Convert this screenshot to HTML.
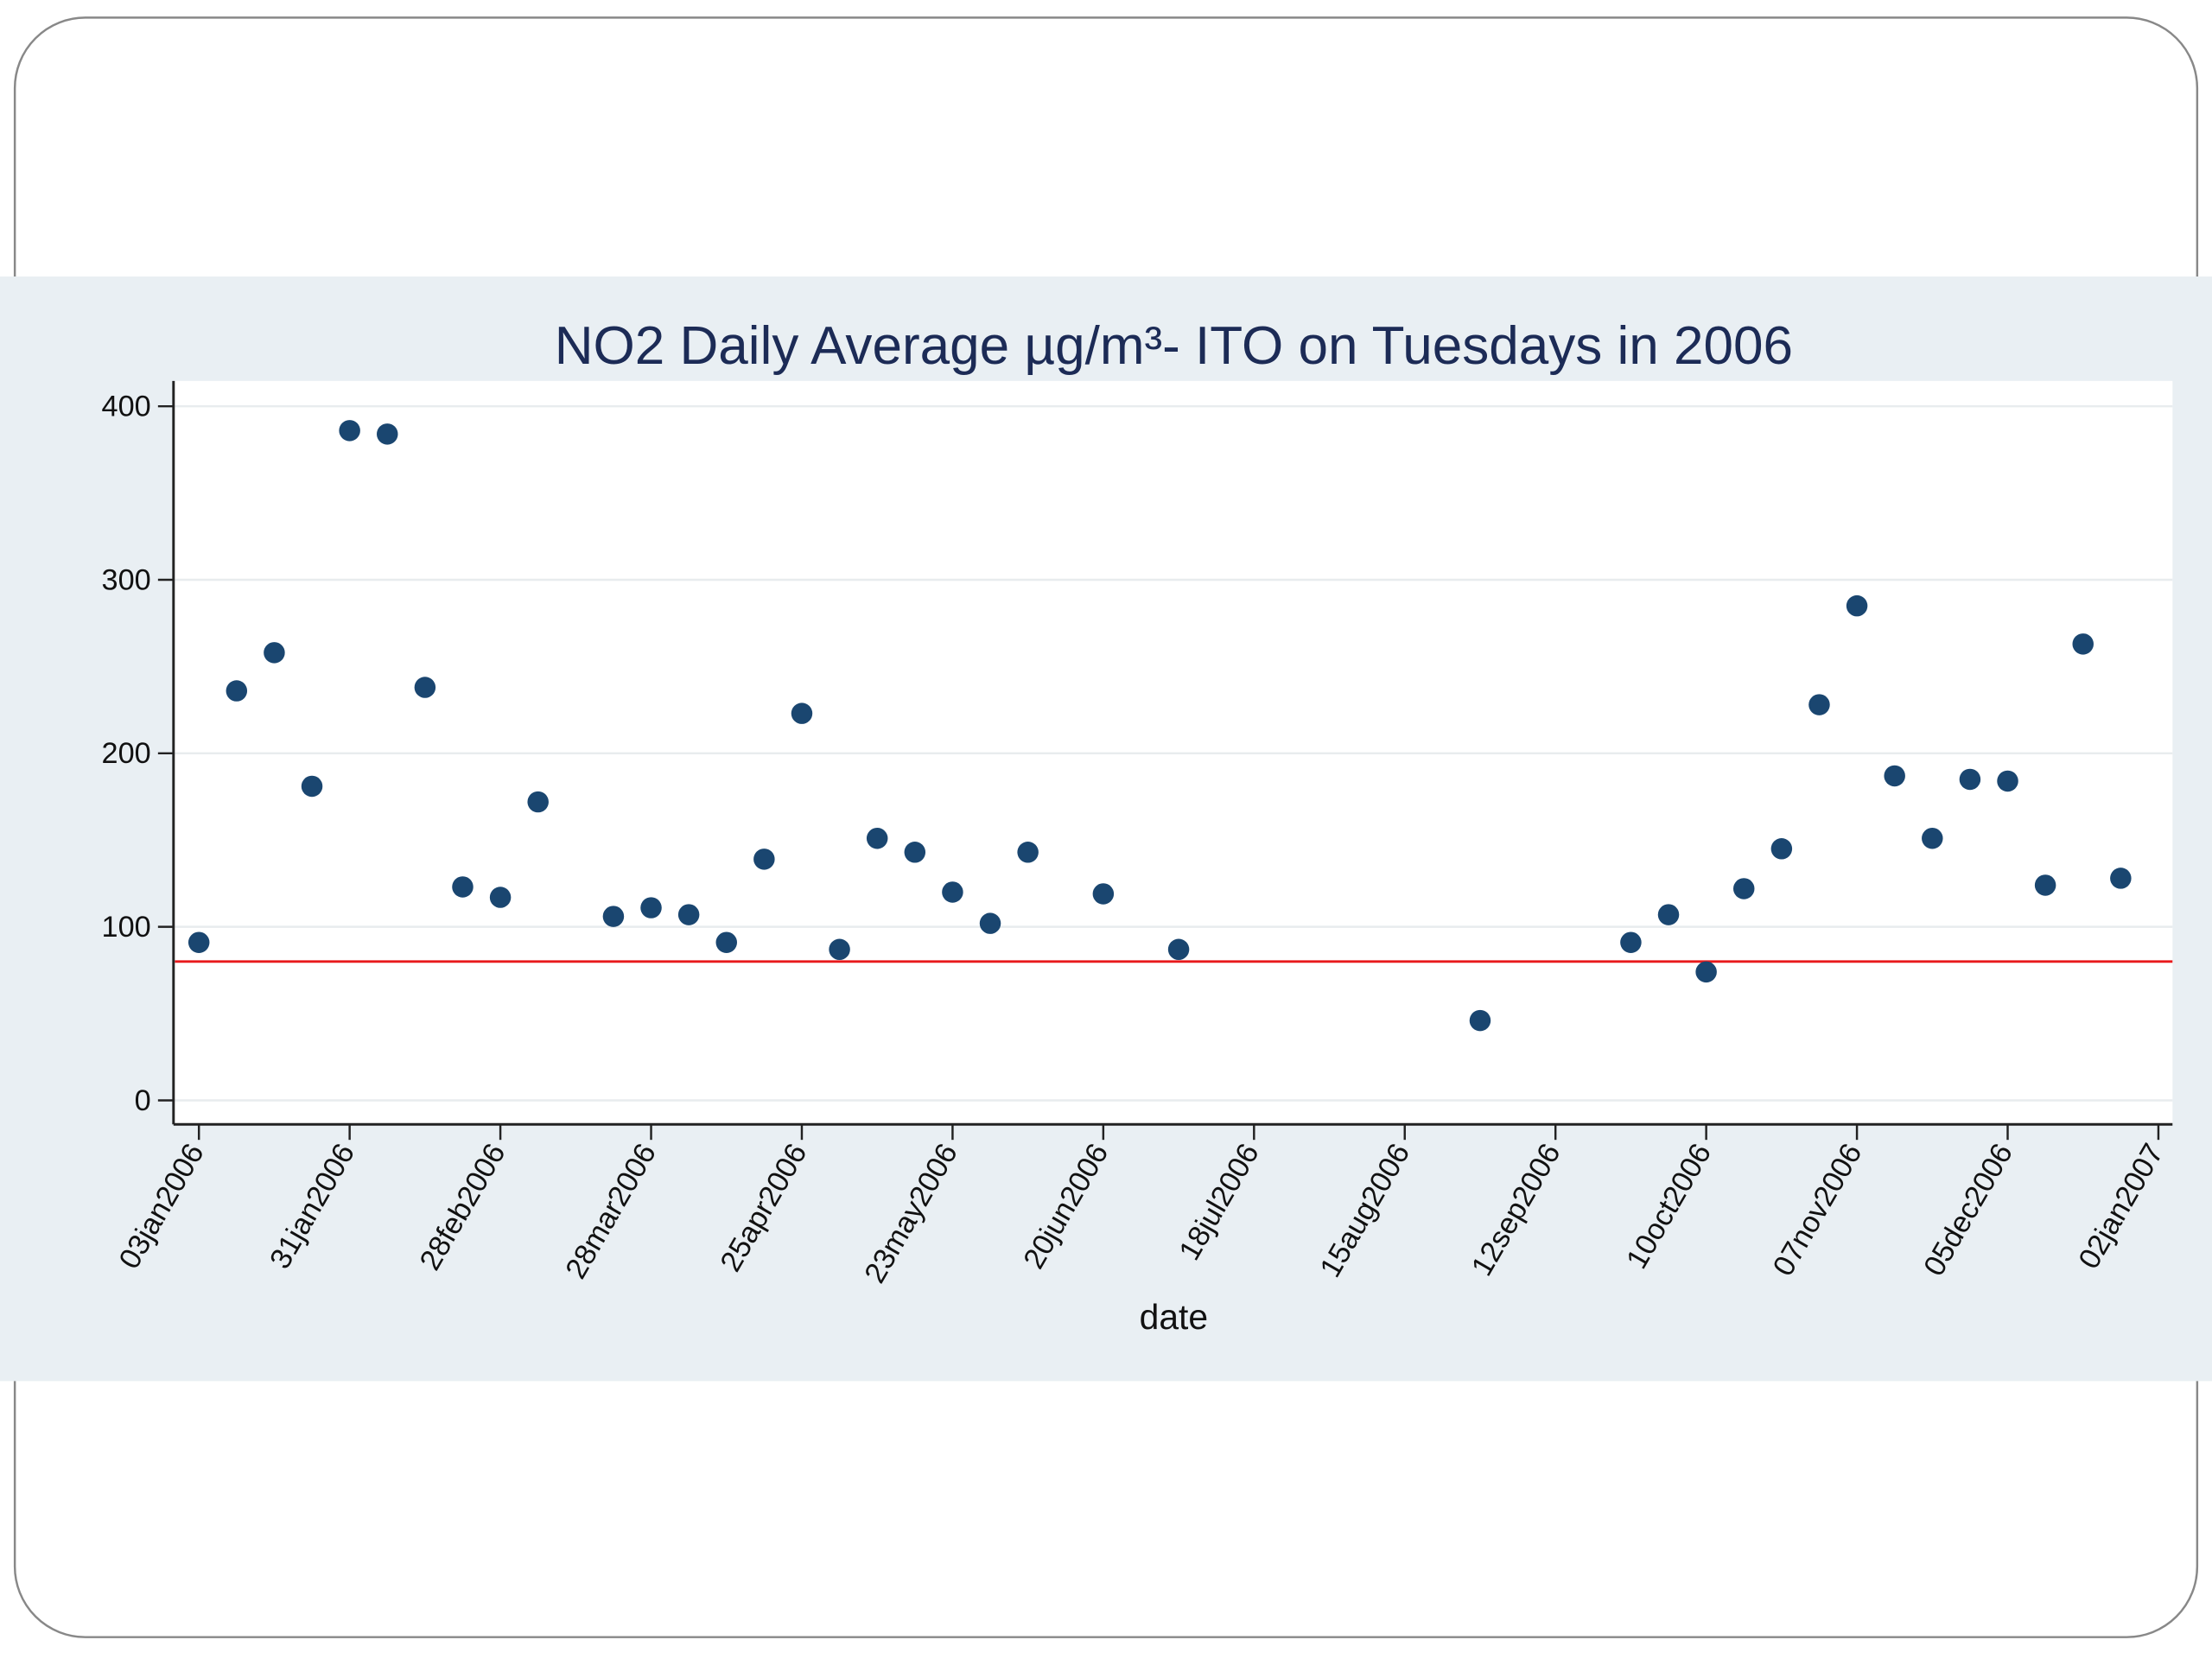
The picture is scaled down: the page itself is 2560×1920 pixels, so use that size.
<!DOCTYPE html>
<html><head><meta charset="utf-8"><style>
html,body{margin:0;padding:0;background:#fff;}
svg{display:block;font-family:"Liberation Sans",sans-serif;}
</style></head><body>
<svg id="chart" width="2560" height="1920" viewBox="0 0 1568 1176" xmlns="http://www.w3.org/2000/svg">
<rect x="10.5" y="12.5" width="1547" height="1148" rx="50" fill="#fff" stroke="#888" stroke-width="1.5"/>
<rect x="0" y="196" width="1568" height="783" fill="#e9eff3"/>
<rect x="123" y="270" width="1417" height="527" fill="#fff"/>
<text x="832" y="258" text-anchor="middle" font-size="38" fill="#1c2b56">NO2 Daily Average µg/m³- ITO on Tuesdays in 2006</text>
<g id="grid"></g><g id="axes"></g><g id="marks"></g>
<text x="832" y="942" text-anchor="middle" font-size="25" fill="#111">date</text>
</svg>
<script>
const weekIdx=[0,1,2,3,4,5,6,7,8,9,11,12,13,14,15,16,17,18,19,20,21,22,24,26,34,38,39,40,41,42,43,44,45,46,47,48,49,50,51];
const no2Values=[91,236,258,181,386,384,238,123,117,172,106,111,107,91,139,223,87,151,143,120,102,143,119,87,46,91,107,74,122,145,228,285,187,151,185,184,124,263,128];
const yTicks=[0,100,200,300,400];
const xTickDays=[0,28,56,84,112,140,168,196,224,252,280,308,336,364];
const xTickLabels=["03jan2006","31jan2006","28feb2006","28mar2006","25apr2006","23may2006","20jun2006","18jul2006","15aug2006","12sep2006","10oct2006","07nov2006","05dec2006","02jan2007"];
const limitValue=80;

const NS="http://www.w3.org/2000/svg";
const X=d=>141+d*(1530-141)/364;
const Y=v=>780-v*1.23;
function mk(tag,attrs,parent){const e=document.createElementNS(NS,tag);for(const k in attrs)e.setAttribute(k,attrs[k]);document.getElementById(parent).appendChild(e);return e;}

yTicks.forEach(t=>{
  const g=mk('line',{x1:124,x2:1540,y1:Y(t),y2:Y(t),stroke:'#e8ecee','stroke-width':1.5},'grid');
  
  
  const tk=mk('line',{x1:112,x2:123,y1:Y(t),y2:Y(t),stroke:'#222','stroke-width':1.5},'axes');
  
  
  const lb=mk('text',{x:107,y:Y(t)+7,'text-anchor':'end','font-size':21,fill:'#111'},'axes');
  lb.textContent=t;
  
  
});
const ya=mk('line',{x1:123,x2:123,y1:270,y2:797,stroke:'#222','stroke-width':1.8},'axes');


const xa=mk('line',{x1:123,x2:1540,y1:797,y2:797,stroke:'#222','stroke-width':1.8},'axes');


xTickDays.forEach((d,i)=>{
  const x=X(d);
  const tk=mk('line',{x1:x,x2:x,y1:797,y2:808,stroke:'#222','stroke-width':1.5},'axes');
  
  
  const lb=mk('text',{x:x+4,y:816,'text-anchor':'end','font-size':21,fill:'#111',transform:`rotate(-60 ${x+4} 816)`},'axes');
  lb.textContent=xTickLabels[i];
  
  
});
const rl=mk('line',{x1:124,x2:1540,y1:Y(limitValue),y2:Y(limitValue),stroke:'#e8191b','stroke-width':1.8},'marks');


weekIdx.forEach((w,i)=>{
  const c=mk('circle',{cx:X(w*7),cy:Y(no2Values[i]),r:7.5,fill:'#1a4670'},'marks');
  
  
});
</script>
</body></html>
